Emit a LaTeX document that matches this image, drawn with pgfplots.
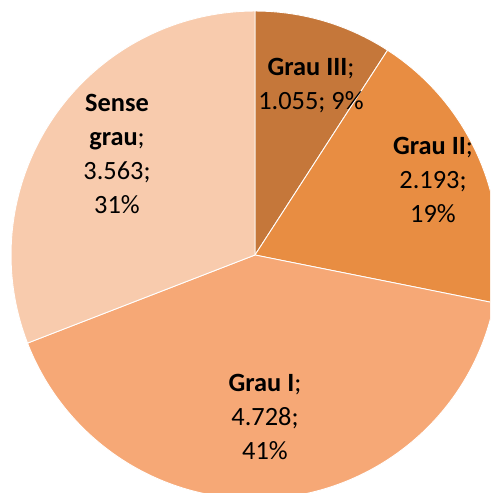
\documentclass[border=0pt]{standalone}
\usepackage{pgfplots}
\pgfplotsset{compat=1.18}
\usepackage{pgfplotstable}
\usepackage{fontspec}
\setmainfont{Carlito}

\definecolor{g3}{RGB}{197,119,58}
\definecolor{g2}{RGB}{232,141,66}
\definecolor{g1}{RGB}{246,168,118}
\definecolor{g0}{RGB}{248,203,173}

% valors del gràfic (sentit horari des de dalt)
\pgfplotstableread[col sep=comma]{
nom,val,col
Grau III,1055,g3
Grau II,2193,g2
Grau I,4728,g1
Sense grau,3563,g0
}\dades

\begin{document}
\begin{tikzpicture}
  % total i angles de cada sector
  \def\total{0}
  \pgfplotstableforeachcolumnelement{val}\of\dades\as\v{%
    \pgfmathsetmacro\t{\total+\v}\xdef\total{\t}}
  \def\ang{90}
  \pgfplotstableforeachcolumnelement{val}\of\dades\as\v{%
    \pgfmathsetmacro\b{\ang-360*(\v/\total)}%
    \expandafter\xdef\csname s\pgfplotstablerow\endcsname{\ang}%
    \expandafter\xdef\csname e\pgfplotstablerow\endcsname{\b}%
    \xdef\ang{\b}}
  \begin{axis}[
    x=0.02cm, y=0.02cm,
    xmin=0, xmax=490, ymin=0, ymax=493,
    hide axis, clip=true,
  ]
  \pgfplotsinvokeforeach{0,...,3}{
    \pgfplotstablegetelem{#1}{col}\of\dades
    \edef\temp{\noexpand\fill[\pgfplotsretval, draw=white, line width=0.5pt]
      (axis cs:255,238) -- ++(\csname s#1\endcsname:4.88cm)
      arc[start angle=\csname s#1\endcsname, end angle=\csname e#1\endcsname, radius=4.88cm] -- cycle;}
    \temp
  }
  \begin{scope}[every node/.style={align=center, font=\fontsize{15}{19.3}\selectfont}]
  \node at (axis cs:311,407) {\textbf{Grau III};\\1.055; 9\%};
  \node at (axis cs:433,313) {\textbf{Grau II};\\2.193;\\19\%};
  \node at (axis cs:265,76) {\textbf{Grau I};\\4.728;\\41\%};
  \node at (axis cs:117,339) {\textbf{Sense}\\\textbf{grau};\\3.563;\\31\%};
  \end{scope}
  \end{axis}
  \pgfresetboundingbox
  \path[use as bounding box] (current axis.south west) rectangle (current axis.north east);
\end{tikzpicture}
\end{document}
